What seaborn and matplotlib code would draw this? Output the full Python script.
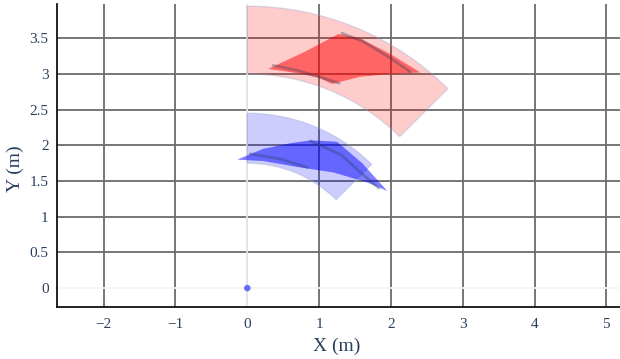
import numpy as np
import pandas as pd
import matplotlib
matplotlib.use("Agg")
import matplotlib.pyplot as plt
from matplotlib.patches import Wedge
import seaborn as sns

# sensor field of view sectors (center, inner r, outer r, angle range)
red_fov = {"r_in": 3.0, "r_out": 3.95, "theta1": 45, "theta2": 90}
blue_fov = {"r_in": 1.75, "r_out": 2.45, "theta1": 45, "theta2": 90}

# detected regions (outline)
red_obj_x = [0.29, 0.80, 1.27, 1.57, 1.99, 2.41, 1.99, 1.57, 1.18, 0.99, 0.64]
red_obj_y = [3.07, 3.31, 3.56, 3.50, 3.28, 3.02, 3.00, 2.96, 2.86, 2.95, 3.02]
blue_obj_x = [-0.14, 0.22, 0.60, 0.88, 1.25, 1.60, 1.95, 1.67, 1.20, 0.74, 0.22]
blue_obj_y = [1.80, 1.95, 2.03, 2.07, 2.05, 1.75, 1.36, 1.48, 1.62, 1.69, 1.78]

# darker stripes inside the regions
red_s1_x = [0.36, 0.70, 1.00, 1.28]
red_s1_y = [3.12, 3.05, 2.96, 2.87]
red_s2_x = [1.32, 1.60, 1.95, 2.27]
red_s2_y = [3.57, 3.46, 3.25, 3.03]
blue_s1_x = [0.04, 0.46, 0.84]
blue_s1_y = [1.88, 1.81, 1.69]
blue_s2_x = [0.88, 1.30, 1.60, 1.83]
blue_s2_y = [2.06, 1.87, 1.60, 1.40]

# sensor position
origin = pd.DataFrame({"x": [0.0], "y": [0.0]})

xticks = [-2, -1, 0, 1, 2, 3, 4, 5]
yticks = [0, 0.5, 1, 1.5, 2, 2.5, 3, 3.5]

sns.set_theme(style="white")
plt.rcParams["font.family"] = ["Liberation Serif", "DejaVu Serif"]

fig = plt.figure(figsize=(6.2, 3.59), dpi=100)
ax = fig.add_axes([57 / 620, 52 / 359, 563 / 620, 303 / 359])

txt = "#2a3f5f"
grid_c = "#6b6b6b"

for xv in xticks:
    if xv != 0:
        ax.axvline(xv, color=grid_c, lw=1.3, zorder=0)
for yv in yticks:
    if yv != 0:
        ax.axhline(yv, color=grid_c, lw=1.3, zorder=0)
ax.axhline(4, color=grid_c, lw=1.3, zorder=0)
# zero lines
ax.axvline(0, color="#e2e2e2", lw=1.3, zorder=0.5)
ax.axhline(0, color="#f6f6f6", lw=1.3, zorder=0.5)

for fov, col in [(red_fov, (1, 0, 0)), (blue_fov, (0, 0, 1))]:
    w = Wedge((0, 0), fov["r_out"], fov["theta1"], fov["theta2"],
              width=fov["r_out"] - fov["r_in"], facecolor=col + (0.2,),
              edgecolor=(0.6, 0.65, 0.8, 0.35), lw=1, zorder=1)
    ax.add_patch(w)

ax.fill(red_obj_x, red_obj_y, color=(1, 0, 0, 0.5), lw=0, zorder=2)
ax.fill(blue_obj_x, blue_obj_y, color=(0, 0, 1, 0.5), lw=0, zorder=2)

for sx, sy in [(red_s1_x, red_s1_y), (red_s2_x, red_s2_y),
               (blue_s1_x, blue_s1_y), (blue_s2_x, blue_s2_y)]:
    sns.lineplot(x=sx, y=sy, sort=False, color=txt, alpha=0.35, lw=2,
                 ax=ax, zorder=3)

sns.scatterplot(data=origin, x="x", y="y", color="#636efa", s=22,
                edgecolor="none", ax=ax, zorder=4)

ax.set_xlim(-2.65, 5.19)
ax.set_ylim(-0.265, 3.98)
ax.set_xticks(xticks)
ax.set_xticklabels(["\u22122", "\u22121", "0", "1", "2", "3", "4", "5"])
ax.set_yticks(yticks)
ax.set_yticklabels(["0", "0.5", "1", "1.5", "2", "2.5", "3", "3.5"])
ax.tick_params(length=0, labelsize=11, colors=txt)
ax.tick_params(axis="x", pad=8)
ax.tick_params(axis="y", pad=6)
ax.set_xlabel("X (m)", fontsize=14, color=txt)
ax.set_ylabel("Y (m)", fontsize=14, color=txt)
ax.xaxis.set_label_coords(0.497, -0.10)
ax.yaxis.set_label_coords(-0.058, 0.455)

ax.spines["right"].set_visible(False)
ax.spines["top"].set_visible(False)
ax.spines["bottom"].set_color("#111111")
ax.spines["bottom"].set_linewidth(1.3)
ax.spines["left"].set_color("#111111")
ax.spines["left"].set_linewidth(1.3)
ax.grid(False)

fig.savefig("out.png", dpi=100)
